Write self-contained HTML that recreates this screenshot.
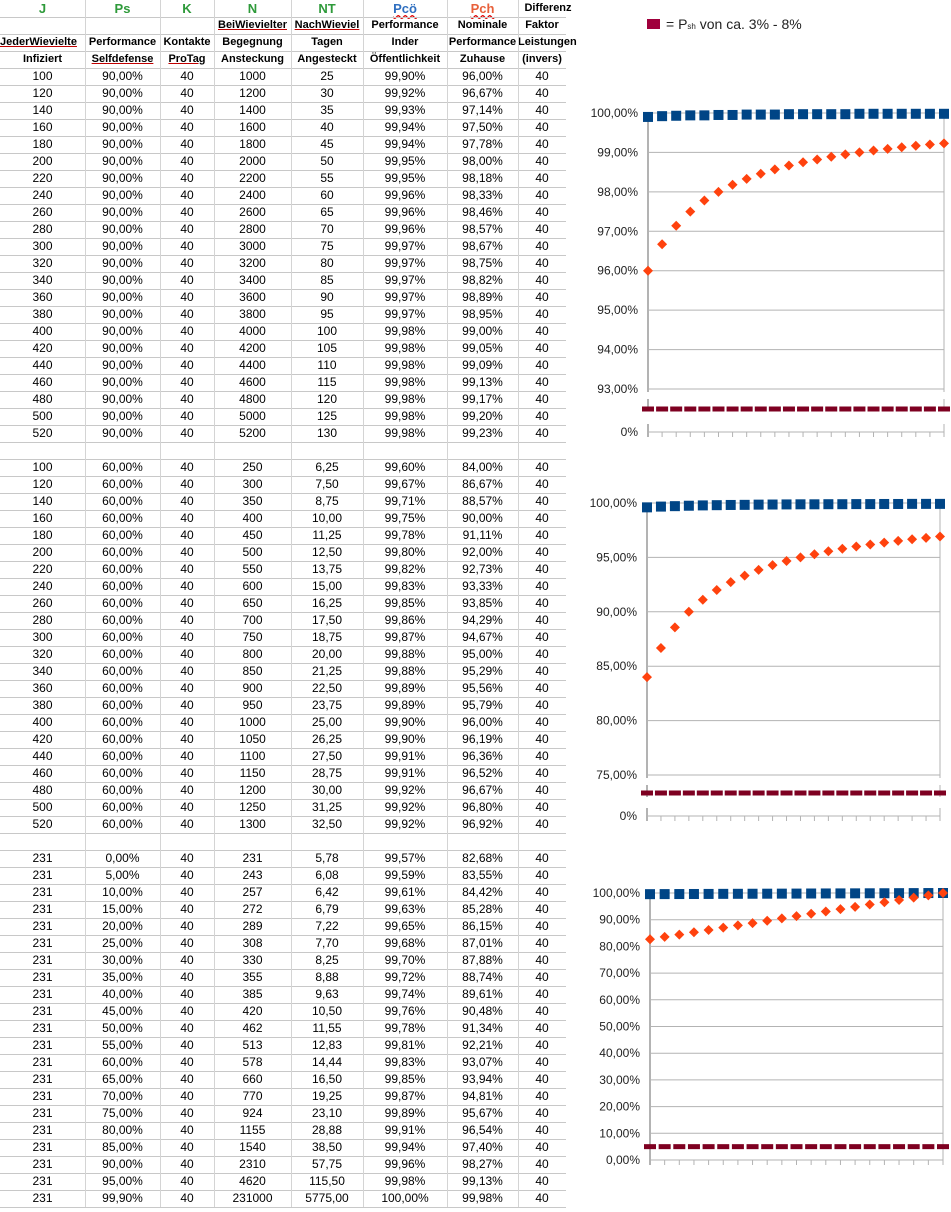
<!DOCTYPE html>
<html><head><meta charset="utf-8">
<style>
body{margin:0;width:951px;height:1212px;background:#fff;position:relative;overflow:hidden;font-family:"Liberation Sans",Arial,sans-serif;}
.c{position:absolute;height:17px;line-height:17px;font-size:12px;text-align:center;white-space:nowrap;color:#000;}
.h{font-weight:bold;font-size:11px;}
.hl{position:absolute;height:1px;background:#c8c8c8;left:0;width:566px;}
.vl{position:absolute;width:1px;background:#d4d4d4;}
.u{text-decoration:underline;text-decoration-color:#c00000;}
svg text{font-family:"Liberation Sans",Arial,sans-serif;font-size:12px;fill:#222;}
</style></head><body>
<div id="tbl"></div>
<div style="position:absolute;left:647px;top:16px;font-size:14px;color:#222;">
<span style="display:inline-block;width:13px;height:10px;background:#a0003c;vertical-align:0px;margin-right:6px;"></span>= P<span style="font-size:8px">sh</span> von ca. 3% - 8%</div>
<svg id="ch" width="951" height="1212" style="position:absolute;left:0;top:0"></svg>
<script>
// ---- table data ----
const J1=[100,120,140,160,180,200,220,240,260,280,300,320,340,360,380,400,420,440,460,480,500,520];
const N1=[1000,1200,1400,1600,1800,2000,2200,2400,2600,2800,3000,3200,3400,3600,3800,4000,4200,4400,4600,4800,5000,5200];
const NT1=["25","30","35","40","45","50","55","60","65","70","75","80","85","90","95","100","105","110","115","120","125","130"];
const Pco1=[99.90,99.92,99.93,99.94,99.94,99.95,99.95,99.96,99.96,99.96,99.97,99.97,99.97,99.97,99.97,99.98,99.98,99.98,99.98,99.98,99.98,99.98];
const Pch1=[96.00,96.67,97.14,97.50,97.78,98.00,98.18,98.33,98.46,98.57,98.67,98.75,98.82,98.89,98.95,99.00,99.05,99.09,99.13,99.17,99.20,99.23];
const N2=[250,300,350,400,450,500,550,600,650,700,750,800,850,900,950,1000,1050,1100,1150,1200,1250,1300];
const NT2=["6,25","7,50","8,75","10,00","11,25","12,50","13,75","15,00","16,25","17,50","18,75","20,00","21,25","22,50","23,75","25,00","26,25","27,50","28,75","30,00","31,25","32,50"];
const Pco2=[99.60,99.67,99.71,99.75,99.78,99.80,99.82,99.83,99.85,99.86,99.87,99.88,99.88,99.89,99.89,99.90,99.90,99.91,99.91,99.92,99.92,99.92];
const Pch2=[84.00,86.67,88.57,90.00,91.11,92.00,92.73,93.33,93.85,94.29,94.67,95.00,95.29,95.56,95.79,96.00,96.19,96.36,96.52,96.67,96.80,96.92];
const Ps3=[0,5,10,15,20,25,30,35,40,45,50,55,60,65,70,75,80,85,90,95,99.9];
const N3=[231,243,257,272,289,308,330,355,385,420,462,513,578,660,770,924,1155,1540,2310,4620,231000];
const NT3=["5,78","6,08","6,42","6,79","7,22","7,70","8,25","8,88","9,63","10,50","11,55","12,83","14,44","16,50","19,25","23,10","28,88","38,50","57,75","115,50","5775,00"];
const Pco3=[99.57,99.59,99.61,99.63,99.65,99.68,99.70,99.72,99.74,99.76,99.78,99.81,99.83,99.85,99.87,99.89,99.91,99.94,99.96,99.98,100.00];
const Pch3=[82.68,83.55,84.42,85.28,86.15,87.01,87.88,88.74,89.61,90.48,91.34,92.21,93.07,93.94,94.81,95.67,96.54,97.40,98.27,99.13,99.98];
const Psh=[5,5,5,5,5,5,5,5,5,5,5,5,5,5,5,5,5,5,5,5,5,5];
// ---- chart axis tick labels ----
const ticks1=[93,94,95,96,97,98,99,100];
const ticks2=[75,80,85,90,95,100];
const ticks3=[0,10,20,30,40,50,60,70,80,90,100];

const colX=[0,85,160,214,291,363,447,518,566];
const T=document.getElementById('tbl');
const pct=v=>v.toFixed(2).replace('.',',')+'%';
function cell(col,top,txt,name,cls,style){
  const d=document.createElement('div');
  d.className='c '+(cls||'');
  d.style.left=colX[col]+'px';d.style.width=(colX[col+1]-colX[col])+'px';d.style.top=top+'px';
  if(style)d.style.cssText+=style;
  d.textContent=txt;
  
  
  T.appendChild(d);
}
function hline(y){const d=document.createElement('div');d.className='hl';d.style.top=y+'px';
  
  
  T.appendChild(d);}
const H=[
 ["J","","JederWievielte","Infiziert"],
 ["Ps","","Performance","Selfdefense"],
 ["K","","Kontakte","ProTag"],
 ["N","BeiWievielter","Begegnung","Ansteckung"],
 ["NT","NachWieviel","Tagen","Angesteckt"],
 ["Pcö","Performance","Inder","Öffentlichkeit"],
 ["Pch","Nominale","Performance","Zuhause"],
 ["Differenz","Faktor","Leistungen","(invers)"]];
const under={"JederWievielte":1,"Selfdefense":1,"ProTag":1,"BeiWievielter":1,"NachWieviel":1};
H.forEach((col,ci)=>{col.forEach((t,ri)=>{
  let st='';
  if(ri==0){ if(ci<5)st='color:#2e9a3a;font-size:13px;'; else if(ci==5)st='color:#2f6fc0;font-size:13px;text-decoration:underline wavy #d00;'; else if(ci==6)st='color:#e8603a;font-size:13px;text-decoration:underline wavy #d00;'; }
  if(ci==0&&ri==2)st+='text-align:left;overflow:hidden;';
  if(ci==7&&ri==0)st+='width:60px;';
  cell(ci,ri*17,t,'header-'+ci+'-'+ri,'h'+(under[t]?' u':''),st);
});});
for(let r=1;r<=4;r++)hline(r*17);
function block(top,rows,name){
  for(let i=0;i<rows.length;i++){
    const y=top+i*17;
    rows[i].forEach((t,ci)=>cell(ci,y,t,name+'-r'+i+'-c'+ci));
    hline(y+17);
  }
}
block(68,J1.map((j,i)=>[j,"90,00%","40",N1[i],NT1[i],pct(Pco1[i]),pct(Pch1[i]),"40"]),'block1');
hline(459);
block(459,J1.map((j,i)=>[j,"60,00%","40",N2[i],NT2[i],pct(Pco2[i]),pct(Pch2[i]),"40"]),'block2');
hline(850);
block(850,Ps3.map((p,i)=>["231",pct(p),"40",N3[i],NT3[i],pct(Pco3[i]),pct(Pch3[i]),"40"]),'block3');
for(let k=1;k<8;k++){const v=document.createElement('div');v.className='vl';v.style.left=colX[k]+'px';v.style.top='0px';v.style.height='1207px';
  
  
  T.appendChild(v);}

// ---- charts ----
const S=document.getElementById('ch');const NS='http://www.w3.org/2000/svg';
function el(tag,at,name){const e=document.createElementNS(NS,tag);for(const k in at)e.setAttribute(k,at[k]);
  
  
  S.appendChild(e);return e;}
function chart(c){
  const {x0,x1,lo,hi,yLo,yHi,y0,ticks,blue,orange,purple,fmt,brk,name}=c;
  const ys=v=> brk? (v>=lo?yLo-(v-lo)/(hi-lo)*(yLo-yHi): y0-(v/5)*(y0-brk)) : y0-(v/100)*(y0-yHi);
  const n=blue.length; const xs=i=>x0+i*(x1-x0)/(n-1);
  ticks.forEach(t=>{const y=ys(t);
    el('line',{x1:x0,x2:x1,y1:y,y2:y,stroke:'#b3b3b3','stroke-width':1},name+'-grid');
    const tx=el('text',{x:x0-10,y:y+4,'text-anchor':'end'},name+'-tick-label');tx.textContent=fmt(t);});
  if(brk){el('line',{x1:x0,x2:x1,y1:y0,y2:y0,stroke:'#b3b3b3'},name+'-grid');
    const tx=el('text',{x:x0-10,y:y0+4,'text-anchor':'end'},name+'-tick-label');tx.textContent='0%';}
  el('line',{x1:x0,x2:x0,y1:yHi,y2:y0+5,stroke:'#b3b3b3','stroke-width':2},name+'-y-axis');
  el('line',{x1:x1,x2:x1,y1:yHi,y2:y0+5,stroke:'#b3b3b3','stroke-width':1},name+'-right-edge');
  if(brk){[[yLo+3,yLo+10],[yLo+22,y0-8]].forEach(g=>{
    el('line',{x1:x0,x2:x0,y1:g[0],y2:g[1],stroke:'#fff','stroke-width':3},name+'-axis-break');
    el('line',{x1:x1,x2:x1,y1:g[0],y2:g[1],stroke:'#fff','stroke-width':3},name+'-axis-break');});}
  for(let i=0;i<n;i++){el('line',{x1:xs(i),x2:xs(i),y1:y0,y2:y0+5,stroke:'#b3b3b3'},name+'-x-tick');}
  purple.slice(0,n).forEach((v,i)=>{el('rect',{x:xs(i)-6,y:ys(v)-2.5,width:12,height:5,fill:'#7e0021'},name+'-psh-point');});
  blue.forEach((v,i)=>{const y=ys(v);el('rect',{x:xs(i)-5,y:y-5,width:10,height:10,fill:'#004586'},name+'-pco-point');});
  orange.forEach((v,i)=>{const y=ys(v),x=xs(i);el('polygon',{points:`${x},${y-5} ${x+5},${y} ${x},${y+5} ${x-5},${y}`,fill:'#ff420e'},name+'-pch-point');});
}
chart({name:'chart1',x0:648,x1:944,lo:93,hi:100,yLo:389,yHi:113,y0:432,brk:409,ticks:ticks1,blue:Pco1,orange:Pch1,purple:Psh,fmt:t=>t.toFixed(2).replace('.',',')+'%'});
chart({name:'chart2',x0:647,x1:940,lo:75,hi:100,yLo:775,yHi:503,y0:816,brk:793,ticks:ticks2,blue:Pco2,orange:Pch2,purple:Psh,fmt:t=>t.toFixed(2).replace('.',',')+'%'});
chart({name:'chart3',x0:650,x1:943,lo:0,hi:100,yLo:1160,yHi:893,y0:1160,brk:0,ticks:ticks3,blue:Pco3,orange:Pch3,purple:Psh,fmt:t=>t.toFixed(2).replace('.',',')+'%'});
</script>
</body></html>
